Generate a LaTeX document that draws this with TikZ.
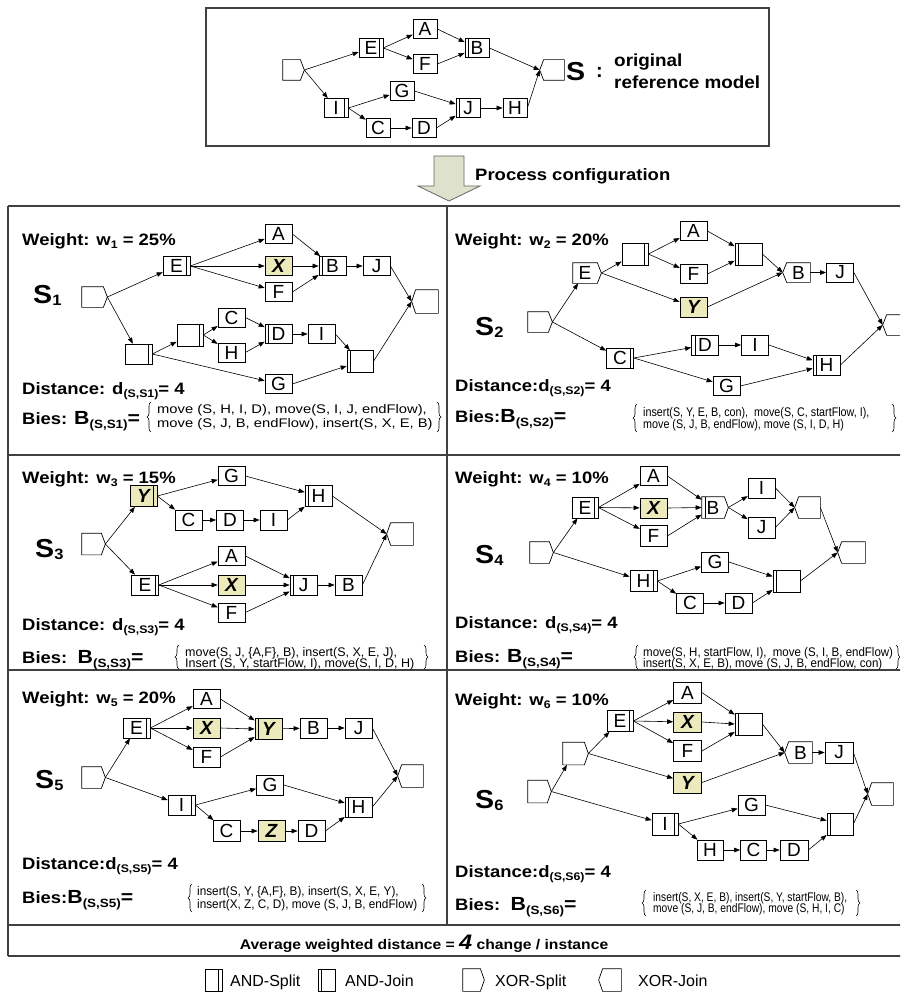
\documentclass[tikz,border=0pt]{standalone}
\usepackage{fontspec}
\setmainfont{Liberation Sans}
\usepackage{graphicx}
\usetikzlibrary{arrows.meta,calc,decorations.pathreplacing}
\definecolor{shadey}{RGB}{236,233,188}
\definecolor{arrfill}{RGB}{222,225,204}
\definecolor{framec}{RGB}{64,64,64}
\newcommand\lbl[1]{\scalebox{1.12}[1]{\bfseries\fontsize{16.5}{16.5}\selectfont #1}}
\newcommand\subx[1]{\raisebox{-3.5pt}{\fontsize{11}{11}\selectfont #1}}
\newcommand\bB[1]{{\fontsize{19}{19}\selectfont B}\raisebox{-4pt}{\fontsize{12}{12}\selectfont #1}{\fontsize{19}{19}\selectfont =}}
\newcommand\bigS[1]{\scalebox{1.1}[1]{\bfseries\fontsize{26}{26}\selectfont S\raisebox{-2pt}{\fontsize{15}{15}\selectfont #1}}}
\newcommand\bzline[2]{\scalebox{#1}[1]{\fontsize{12.5}{12.5}\selectfont #2}}
\newcommand\xsd[1]{\draw[thinl] (#1.north east) -- (#1.north west) -- (#1.south west) -- (#1.south east) -- ($(#1.east)+(4pt,0)$) -- cycle; \coordinate (#1t) at ($(#1.east)+(4pt,0)$);}
\newcommand\xjd[1]{\draw[thinl] (#1.north west) -- (#1.north east) -- (#1.south east) -- (#1.south west) -- ($(#1.west)+(-4pt,0)$) -- cycle; \coordinate (#1t) at ($(#1.west)+(-4pt,0)$);}
\tikzset{
 thinl/.style={line width=0.7pt},
 tk/.style={draw, thinl, inner sep=0pt, minimum width=27pt, minimum height=19pt, font=\fontsize{19}{19}\selectfont},
 tks/.style={tk, minimum width=24pt},
 gw/.style={tk, minimum width=21pt, minimum height=21pt},
 hl/.style={fill=shadey, font=\bfseries\itshape\fontsize{19}{19}\selectfont},
 as/.style={path picture={\draw[thinl] ([xshift=-3.5pt]path picture bounding box.north east) -- ([xshift=-3.5pt]path picture bounding box.south east);}},
 aj/.style={path picture={\draw[thinl] ([xshift=3.5pt]path picture bounding box.north west) -- ([xshift=3.5pt]path picture bounding box.south west);}},
 ar/.style={line width=0.6pt, -{Triangle[length=6pt,width=4.5pt]}},
 txt/.style={anchor=base west, inner sep=0pt},
 grid/.style={draw=framec, line width=1.2pt},
 brc/.style={decorate, decoration={brace, amplitude=4pt}, line width=0.6pt},
}
\begin{document}
\begin{tikzpicture}[x=1pt,y=-1pt]
\useasboundingbox (0,0) rectangle (900,992);
\fill[white] (0,0) rectangle (900,992);
\clip (0,0) rectangle (900,992);

% ---------- top reference model ----------
\draw[grid] (206,8) rectangle (769,146);
\node[gw,draw=none,minimum width=17pt,minimum height=20pt] (s0) at (291.5,70) {}; \xsd{s0}
\node[tks,as] (sE) at (371,48) {E};
\node[tks] (sA) at (425,29) {A};
\node[tks] (sF) at (425,64) {F};
\node[tks,aj] (sB) at (477,48) {B};
\node[tks,as] (sI) at (336,108) {I};
\node[tks] (sG) at (402,91) {G};
\node[tks] (sC) at (378,128) {C};
\node[tks] (sD) at (424,128) {D};
\node[tks,aj] (sJ) at (468,108) {J};
\node[tks] (sH) at (515,108) {H};
\node[gw,draw=none,minimum width=20pt,minimum height=20pt] (sEnd) at (554,70) {}; \xjd{sEnd}
\draw[ar] (s0t) -- (sE); \draw[ar] (s0t) -- (sI);
\draw[ar] (sE.east) -- (sA); \draw[ar] (sE.east) -- (sF);
\draw[ar] (sA.east) -- (sB); \draw[ar] (sF.east) -- (sB);
\draw[ar] (sB.east) -- (sEndt);
\draw[ar] (sI.east) -- (sG); \draw[ar] (sI.east) -- (sC);
\draw[ar] (sG.east) -- (sJ); \draw[ar] (sC) -- (sD); \draw[ar] (sD.east) -- (sJ);
\draw[ar] (sJ) -- (sH); \draw[ar] (sH.east) -- (sEndt);
\node[txt] (sS) at (566,81) {\scalebox{1.1}[1]{\bfseries\fontsize{26}{26}\selectfont S}};
\node[txt] (sCol) at (596,78) {\bfseries\fontsize{20}{20}\selectfont :};
\node[txt] (sOrig) at (614,67) {\scalebox{1.08}[1]{\bfseries\fontsize{17.5}{17.5}\selectfont original}};
\node[txt] (sRef) at (614,89) {\scalebox{1.08}[1]{\bfseries\fontsize{17.5}{17.5}\selectfont reference model}};

% ---------- process configuration arrow ----------
\draw[draw=framec!80, line width=0.8pt, fill=arrfill] (434,156) -- (464,156) -- (464,186) -- (480,186) -- (449,201) -- (418,186) -- (434,186) -- cycle;
\node[txt] (pc) at (475,181) {\lbl{Process configuration}};

% ---------- grid ----------
\draw[grid] (8,206) -- (905,206);
\draw[grid] (8,455) -- (905,455);
\draw[grid] (8,670) -- (905,670);
\draw[grid] (8,925) -- (905,925);
\draw[grid] (8,956) -- (905,956);
\draw[grid] (8,206) -- (8,956);
\draw[grid] (447,206) -- (447,925);

% ---------- S1 ----------
\node[txt] (aW) at (22,245) {\lbl{Weight: w\subx{1} = 25\%}};
\node[txt] (aL) at (33,303) {\bigS{1}};
\node[gw,draw=none,minimum height=20pt] (a0) at (92.5,297) {}; \xsd{a0}
\node[tk,as] (aE) at (176.5,266) {E};
\node[tk] (aA) at (278.5,234) {A};
\node[tk,hl] (aX) at (278.5,266) {X};
\node[tk] (aF) at (278.5,292) {F};
\node[tk,aj] (aB) at (332.5,266) {B};
\node[tk] (aJ) at (376.5,266) {J};
\node[gw,draw=none,minimum width=22pt,minimum height=23pt] (aEnd) at (427,301.5) {}; \xjd{aEnd}
\node[tk,as,minimum height=20pt] (aS1) at (138.5,354) {};
\node[tk,as,minimum width=26pt,minimum height=22pt] (aS2) at (190,335) {};
\node[tk] (aC) at (231.5,317.5) {C};
\node[tk] (aH) at (231.5,352.5) {H};
\node[tk,aj] (aD) at (278.5,334) {D};
\node[tk] (aI) at (321.5,334) {I};
\node[tk,aj,minimum width=26pt,minimum height=22pt] (aJ2) at (360,361.5) {};
\node[tk] (aG) at (278.5,384) {G};
\draw[ar] (a0t) -- (aE); \draw[ar] (a0t) -- (aS1);
\draw[ar] (aE.east) -- (aA); \draw[ar] (aE.east) -- (aX); \draw[ar] (aE.east) -- (aF);
\draw[ar] (aA.east) -- (aB); \draw[ar] (aX.east) -- (aB.west); \draw[ar] (aF.east) -- (aB);
\draw[ar] (aB) -- (aJ); \draw[ar] (aJ.east) -- (aEndt);
\draw[ar] (aS1.east) -- (aS2); \draw[ar] (aS1.east) -- (aG);
\draw[ar] (aS2.east) -- (aC); \draw[ar] (aS2.east) -- (aH);
\draw[ar] (aC.east) -- (aD); \draw[ar] (aH.east) -- (aD);
\draw[ar] (aD) -- (aI); \draw[ar] (aI.east) -- (aJ2);
\draw[ar] (aG.east) -- (aJ2); \draw[ar] (aJ2.east) -- (aEndt);
\node[txt] (aDist) at (22,394) {\lbl{Distance: d\subx{(S,S1)}= 4}};
\node[txt] (aBies) at (22,424) {\lbl{Bies: \bB{(S,S1)}}};
\draw[brc] (151,432) -- (151,402);
\draw[brc] (437,402) -- (437,432);
\node[txt] (aB1) at (157,413) {\bzline{1.18}{move (S, H, I, D), move(S, I, J, endFlow),}};
\node[txt] (aB2) at (157,427) {\bzline{1.18}{move (S, J, B, endFlow), insert(S, X, E, B)}};

% ---------- S2 ----------
\node[txt] (bW) at (455,245) {\lbl{Weight: w\subx{2} = 20\%}};
\node[txt] (bL) at (475,335) {\bigS{2}};
\node[gw,draw=none,minimum width=20pt,minimum height=20pt] (b0) at (538,322) {}; \xsd{b0}
\node[tk,draw=none,minimum width=24pt,minimum height=20pt] (bE) at (585,273) {E}; \xsd{bE}
\node[tk,as,minimum width=26pt,minimum height=22pt] (bAS) at (635,254) {};
\node[tk] (bA) at (693.5,231) {A};
\node[tk] (bF) at (693.5,274) {F};
\node[tk,aj,minimum height=22pt] (bAJ) at (748.5,254) {};
\node[tk,hl,minimum height=20pt] (bY) at (693.5,307) {Y};
\node[tk,draw=none,minimum width=23pt] (bB) at (798.5,272.5) {B}; \xjd{bB}
\node[tk] (bJ) at (840,272.5) {J};
\node[gw,draw=none,minimum width=23pt,minimum height=20pt] (bEnd) at (898.5,325) {}; \xjd{bEnd}
\node[tk,as,minimum height=20pt] (bC) at (620,358) {C};
\node[tk,aj,minimum height=20pt] (bD) at (705,345) {D};
\node[tk,minimum height=20pt] (bI) at (755,345) {I};
\node[tk,aj,minimum height=20pt] (bH) at (826.5,365) {H};
\node[tk] (bG) at (726.5,386) {G};
\draw[ar] (b0t) -- (bE); \draw[ar] (b0t) -- (bC);
\draw[ar] (bEt) -- (bAS); \draw[ar] (bEt) -- (bY);
\draw[ar] (bAS.east) -- (bA); \draw[ar] (bAS.east) -- (bF);
\draw[ar] (bA.east) -- (bAJ); \draw[ar] (bF.east) -- (bAJ);
\draw[ar] (bAJ.east) -- (bBt); \draw[ar] (bY.east) -- (bBt);
\draw[ar] (bB) -- (bJ); \draw[ar] (bJ.east) -- (bEndt);
\draw[ar] (bC.east) -- (bD); \draw[ar] (bC.east) -- (bG);
\draw[ar] (bD) -- (bI); \draw[ar] (bI.east) -- (bH);
\draw[ar] (bG.east) -- (bH); \draw[ar] (bH.east) -- (bEndt);
\node[txt] (bDist) at (455,391) {\lbl{Distance:d\subx{(S,S2)}= 4}};
\node[txt] (bBies) at (455,422) {\lbl{Bies:\bB{(S,S2)}}};
\draw[brc] (637,432) -- (637,404);
\draw[brc] (892,404) -- (892,432);
\node[txt] (bB1) at (643,416) {\bzline{0.86}{insert(S, Y, E, B, con),\ \ move(S, C, startFlow, I),}};
\node[txt] (bB2) at (643,428) {\bzline{0.86}{move (S, J, B, endFlow), move (S, I, D, H)}};

% ---------- S3 ----------
\node[txt] (cW) at (22,483) {\lbl{Weight: w\subx{3} = 15\%}};
\node[txt] (cL) at (35,557) {\bigS{3}};
\node[gw,draw=none,minimum width=19pt] (c0) at (91.5,544) {}; \xsd{c0}
\node[tk,hl,as,minimum height=21pt] (cY) at (143.5,496) {Y};
\node[tk] (cG) at (231.5,476) {G};
\node[tk,aj,minimum height=21pt] (cH) at (318.5,496) {H};
\node[tk,minimum height=20pt] (cC) at (188.5,520) {C};
\node[tk,minimum height=20pt] (cD) at (230,520) {D};
\node[tk,minimum height=20pt] (cI) at (273.5,520) {I};
\node[gw,draw=none,minimum width=22pt,minimum height=22pt] (cEnd) at (402,534) {}; \xjd{cEnd}
\node[tk] (cA) at (231.5,556) {A};
\node[tk,as,minimum height=20pt] (cE) at (145,585) {E};
\node[tk,hl,minimum height=20pt] (cX) at (231.5,585) {X};
\node[tk,aj,minimum height=20pt] (cJ) at (303.5,585) {J};
\node[tk,minimum height=20pt] (cB) at (348.5,585) {B};
\node[tk] (cF) at (231.5,612.5) {F};
\draw[ar] (c0t) -- (cY); \draw[ar] (c0t) -- (cE);
\draw[ar] (cY.east) -- (cG); \draw[ar] (cY.east) -- (cC);
\draw[ar] (cG.east) -- (cH); \draw[ar] (cC) -- (cD); \draw[ar] (cD) -- (cI);
\draw[ar] (cI.east) -- (cH); \draw[ar] (cH.east) -- (cEndt);
\draw[ar] (cE.east) -- (cA); \draw[ar] (cE.east) -- (cX); \draw[ar] (cE.east) -- (cF);
\draw[ar] (cA.east) -- (cJ); \draw[ar] (cX.east) -- (cJ.west); \draw[ar] (cF.east) -- (cJ);
\draw[ar] (cJ) -- (cB); \draw[ar] (cB.east) -- (cEndt);
\node[txt] (cDist) at (22,630) {\lbl{Distance: d\subx{(S,S3)}= 4}};
\node[txt] (cBies) at (22,663) {\lbl{Bies:\ \ \bB{(S,S3)}}};
\draw[brc] (179,669) -- (179,645);
\draw[brc] (424,645) -- (424,669);
\node[txt] (cB1) at (185,656) {\bzline{1.0}{move(S, J, \{A,F\}, B), insert(S, X, E, J),}};
\node[txt] (cB2) at (185,667) {\bzline{1.0}{Insert (S, Y, startFlow, I), move(S, I, D, H)}};

% ---------- S4 ----------
\node[txt] (dW) at (455,483) {\lbl{Weight: w\subx{4} = 10\%}};
\node[txt] (dL) at (475,563) {\bigS{4}};
\node[gw,draw=none,minimum width=19pt] (d0) at (539.5,552.5) {}; \xsd{d0}
\node[tk,as,minimum width=26pt,minimum height=21pt] (dE) at (585,507.5) {E};
\node[tk] (dA) at (653.5,476) {A};
\node[tk,hl,minimum height=20pt] (dX) at (653.5,508) {X};
\node[tk,minimum height=21pt] (dF) at (653.5,536) {F};
\node[tk,aj,draw=none,minimum width=22pt,minimum height=21pt] (dB) at (713,507.5) {B}; \xsd{dB}
\node[tk,minimum height=20pt] (dI) at (761.5,488) {I};
\node[tk,minimum height=21pt] (dJ) at (761.5,527.5) {J};
\node[gw,draw=none,minimum width=21pt] (dXJ) at (809.5,507.5) {}; \xjd{dXJ}
\node[gw,draw=none,minimum width=23pt] (dEnd) at (853.5,552.5) {}; \xjd{dEnd}
\node[tk,minimum height=20pt] (dG) at (715,562) {G};
\node[tk,as,minimum height=21pt] (dH) at (643.5,581) {H};
\node[tk,aj,minimum height=22pt] (dAJ) at (786.5,581) {};
\node[tk,minimum height=20pt] (dC) at (690,603) {C};
\node[tk,minimum height=20pt] (dD) at (738.5,603) {D};
\draw[ar] (d0t) -- (dE); \draw[ar] (d0t) -- (dH);
\draw[ar] (dE.east) -- (dA); \draw[ar] (dE.east) -- (dX); \draw[ar] (dE.east) -- (dF);
\draw[ar] (dA.east) -- (dB); \draw[ar] (dX.east) -- (dB.west); \draw[ar] (dF.east) -- (dB);
\draw[ar] (dBt) -- (dI); \draw[ar] (dBt) -- (dJ);
\draw[ar] (dI.east) -- (dXJt); \draw[ar] (dJ.east) -- (dXJt);
\draw[ar] (dXJ.east) -- (dEndt);
\draw[ar] (dH.east) -- (dG); \draw[ar] (dH.east) -- (dC);
\draw[ar] (dG.east) -- (dAJ); \draw[ar] (dC) -- (dD); \draw[ar] (dD.east) -- (dAJ);
\draw[ar] (dAJ.east) -- (dEndt);
\node[txt] (dDist) at (455,628) {\lbl{Distance: d\subx{(S,S4)}= 4}};
\node[txt] (dBies) at (455,662) {\lbl{Bies: \bB{(S,S4)}}};
\draw[brc] (638,669) -- (638,645);
\draw[brc] (896,645) -- (896,669);
\node[txt] (dB1) at (643,656) {\bzline{0.92}{move(S, H, startFlow, I),\ \ move (S, I, B, endFlow)}};
\node[txt] (dB2) at (643,667) {\bzline{0.92}{insert(S, X, E, B), move (S, J, B, endFlow, con)}};

% ---------- S5 ----------
\node[txt] (eW) at (22,703) {\lbl{Weight: w\subx{5} = 20\%}};
\node[txt] (eL) at (35,788) {\bigS{5}};
\node[gw,draw=none,minimum width=19pt] (e0) at (91.5,777.5) {}; \xsd{e0}
\node[tk,as,minimum height=20pt] (eE) at (136.5,728) {E};
\node[tk] (eA) at (206.5,699) {A};
\node[tk,hl,minimum height=20pt] (eX) at (206.5,728) {X};
\node[tk,minimum height=20pt] (eF) at (206.5,757) {F};
\node[tk,hl,aj,minimum height=21pt] (eY) at (268.5,729) {Y};
\node[tk,minimum height=20pt] (eB) at (313.5,728) {B};
\node[tk,minimum height=20pt] (eJ) at (358.5,728) {J};
\node[gw,draw=none,minimum width=21pt,minimum height=22pt] (eEnd) at (412.5,776) {}; \xjd{eEnd}
\node[tk,minimum height=20pt] (eG) at (270,785) {G};
\node[tk,as,minimum height=20pt] (eI) at (181.5,805) {I};
\node[tk,aj,minimum height=20pt] (eH) at (358.5,807) {H};
\node[tk,minimum height=21pt] (eC) at (226.5,831) {C};
\node[tk,hl,minimum height=21pt] (eZ) at (271.5,831) {Z};
\node[tk,minimum height=21pt] (eD) at (311.5,831) {D};
\draw[ar] (e0t) -- (eE); \draw[ar] (e0t) -- (eI);
\draw[ar] (eE.east) -- (eA); \draw[ar] (eE.east) -- (eX); \draw[ar] (eE.east) -- (eF);
\draw[ar] (eA.east) -- (eY); \draw[ar] (eX.east) -- (eY.west); \draw[ar] (eF.east) -- (eY);
\draw[ar] (eY) -- (eB); \draw[ar] (eB) -- (eJ); \draw[ar] (eJ.east) -- (eEndt);
\draw[ar] (eI.east) -- (eG); \draw[ar] (eI.east) -- (eC);
\draw[ar] (eC) -- (eZ); \draw[ar] (eZ) -- (eD);
\draw[ar] (eG.east) -- (eH); \draw[ar] (eD.east) -- (eH);
\draw[ar] (eH.east) -- (eEndt);
\node[txt] (eDist) at (22,869) {\lbl{Distance:d\subx{(S,S5)}= 4}};
\node[txt] (eBies) at (22,903) {\lbl{Bies:\bB{(S,S5)}}};
\draw[brc] (192,912) -- (192,884);
\draw[brc] (422,884) -- (422,912);
\node[txt] (eB1) at (197,895) {\bzline{0.94}{insert(S, Y, \{A,F\}, B), insert(S, X, E, Y),}};
\node[txt] (eB2) at (197,908) {\bzline{0.94}{insert(X, Z, C, D), move (S, J, B, endFlow)}};

% ---------- S6 ----------
\node[txt] (fW) at (455,705) {\lbl{Weight: w\subx{6} = 10\%}};
\node[txt] (fL) at (475,808) {\bigS{6}};
\node[gw,draw=none,minimum width=19pt,minimum height=22pt] (f0) at (537.5,791.5) {}; \xsd{f0}
\node[gw,draw=none,minimum width=21pt,minimum height=22pt] (fM) at (573.5,753.5) {}; \xsd{fM}
\node[tk,as,minimum width=26pt,minimum height=21pt] (fE) at (620,721) {E};
\node[tk,minimum width=28pt,minimum height=21pt] (fA) at (687.5,692.5) {A};
\node[tk,hl,minimum width=28pt,minimum height=20pt] (fX) at (687.5,722) {X};
\node[tk,minimum width=28pt,minimum height=21pt] (fF) at (687.5,751) {F};
\node[tk,aj,minimum height=22pt] (fAJ) at (748.5,724) {};
\node[tk,hl,minimum width=28pt,minimum height=21pt] (fY) at (687.5,782.5) {Y};
\node[tk,draw=none,minimum width=23pt,minimum height=21pt] (fB) at (800.5,752.5) {B}; \xjd{fB}
\node[tk,minimum width=28pt,minimum height=21pt] (fJ) at (839,752.5) {J};
\node[gw,draw=none,minimum width=21pt,minimum height=22pt] (fEnd) at (882.5,794) {}; \xjd{fEnd}
\node[tk,minimum height=20pt] (fG) at (751.5,805) {G};
\node[tk,as,minimum width=26pt,minimum height=22pt] (fI) at (665,824) {I};
\node[tk,aj,minimum width=26pt,minimum height=22pt] (fLJ) at (840,824) {};
\node[tk,minimum width=26pt,minimum height=20pt] (fH) at (710,850) {H};
\node[tk,minimum width=26pt,minimum height=20pt] (fC) at (753.5,850) {C};
\node[tk,minimum width=28pt,minimum height=20pt] (fD) at (794,850) {D};
\draw[ar] (f0t) -- (fM); \draw[ar] (f0t) -- (fI);
\draw[ar] (fMt) -- (fE); \draw[ar] (fMt) -- (fY);
\draw[ar] (fE.east) -- (fA); \draw[ar] (fE.east) -- (fX); \draw[ar] (fE.east) -- (fF);
\draw[ar] (fA.east) -- (fAJ); \draw[ar] (fX.east) -- (fAJ.west); \draw[ar] (fF.east) -- (fAJ);
\draw[ar] (fAJ.east) -- (fBt); \draw[ar] (fY.east) -- (fBt);
\draw[ar] (fB) -- (fJ); \draw[ar] (fJ.east) -- (fEndt);
\draw[ar] (fI.east) -- (fG); \draw[ar] (fI.east) -- (fH);
\draw[ar] (fH) -- (fC); \draw[ar] (fC) -- (fD);
\draw[ar] (fG.east) -- (fLJ); \draw[ar] (fD.east) -- (fLJ);
\draw[ar] (fLJ.east) -- (fEndt);
\node[txt] (fDist) at (455,877) {\lbl{Distance:d\subx{(S,S6)}= 4}};
\node[txt] (fBies) at (455,910) {\lbl{Bies:\ \ \bB{(S,S6)}}};
\draw[brc] (646,916) -- (646,890);
\draw[brc] (856,890) -- (856,916);
\node[txt] (fB1) at (653,901) {\bzline{0.82}{insert(S, X, E, B), insert(S, Y, startFlow, B),}};
\node[txt] (fB2) at (653,912) {\bzline{0.82}{move (S, J, B, endFlow), move (S, H, I, C)}};

% ---------- average ----------
\node[anchor=base, inner sep=0pt] (avg) at (424,949) {\scalebox{1.12}[1]{\bfseries\fontsize{14}{14}\selectfont Average weighted distance = {\itshape\fontsize{21}{21}\selectfont 4} change / instance}};

% ---------- legend ----------
\node[tk,as,minimum width=17pt,minimum height=22pt] (gAS) at (213.5,980) {};
\node[txt] (gASt) at (230,986) {\fontsize{16}{16}\selectfont AND-Split};
\node[tk,aj,minimum width=17pt,minimum height=22pt] (gAJ) at (326.5,980) {};
\node[txt] (gAJt) at (345,986) {\fontsize{16}{16}\selectfont AND-Join};
\node[tk,draw=none,minimum width=17pt,minimum height=22pt] (gXS) at (471.5,980) {}; \xsd{gXS}
\node[txt] (gXSt) at (495,986) {\fontsize{16}{16}\selectfont XOR-Split};
\node[tk,draw=none,minimum width=18pt,minimum height=22pt] (gXJ) at (612,980) {}; \xjd{gXJ}
\node[txt] (gXJt) at (638,986) {\fontsize{16}{16}\selectfont XOR-Join};
\end{tikzpicture}
\end{document}
